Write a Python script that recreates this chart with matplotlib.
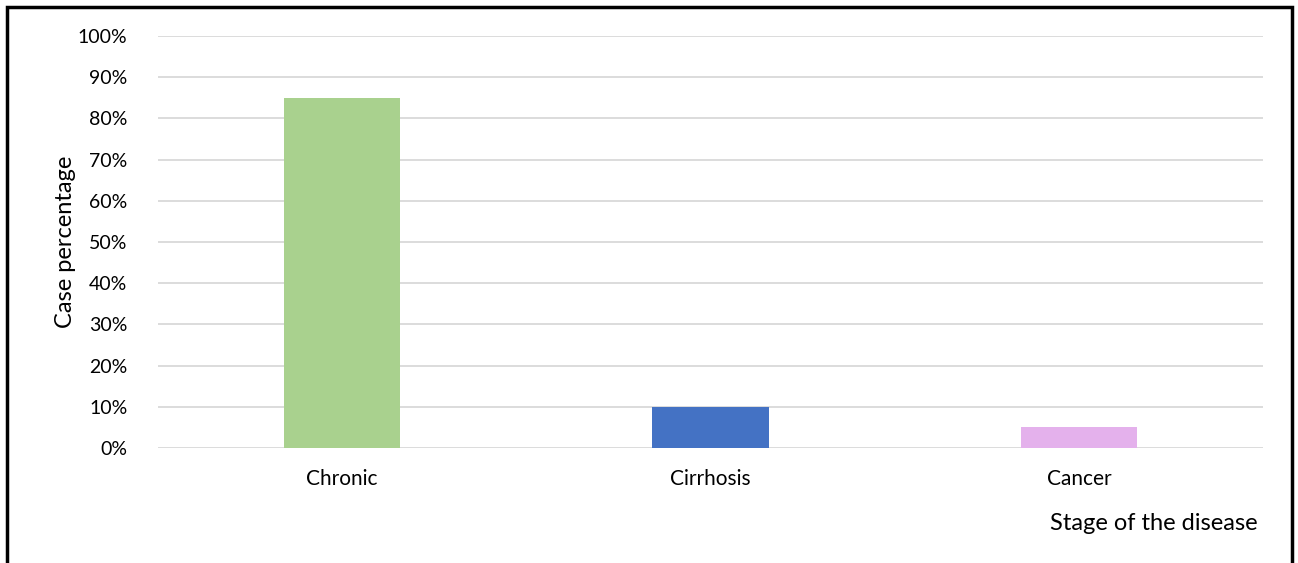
import matplotlib.pyplot as plt
from matplotlib.patches import Rectangle
from matplotlib.ticker import PercentFormatter

stages = ["Chronic", "Cirrhosis", "Cancer"]
percentages = [85, 10, 5]
colors = ["#A9D18E", "#4472C4", "#E4B1EC"]

plt.rcParams['font.family'] = ['Lato', 'DejaVu Sans']

fig = plt.figure(figsize=(12.98, 5.63), dpi=100)
ax = fig.add_axes([158 / 1298, 1 - 448 / 563, (1263 - 158) / 1298, (448 - 36) / 563])

ax.bar(range(len(stages)), percentages, width=0.315, color=colors, zorder=3)
ax.set_xlim(-0.5, len(stages) - 0.5)
ax.set_ylim(0, 100)
ax.set_yticks(range(0, 101, 10))
ax.yaxis.set_major_formatter(PercentFormatter(decimals=0))
ax.set_xticks(range(len(stages)))
ax.set_xticklabels(stages)
ax.tick_params(length=0, colors="#000000")
ax.tick_params(axis='x', pad=15, labelsize=15)
ax.tick_params(axis='y', pad=22, labelsize=14)
ax.grid(axis='y', color="#D9D9D9", linewidth=1.3, zorder=0)
for s in ax.spines.values():
    s.set_visible(False)

ax.set_ylabel("Case percentage", fontsize=17, labelpad=1)
fig.text(1258 / 1298, 1 - 524 / 563, "Stage of the disease", fontsize=17,
         ha='right', va='center')

fig.patches.append(Rectangle((7 / 1298, -0.01), (1292 - 7) / 1298, 1 - 7 / 563 + 0.01,
                             transform=fig.transFigure, fill=False,
                             edgecolor='black', linewidth=2.5))

fig.savefig("out.png", dpi=100)
